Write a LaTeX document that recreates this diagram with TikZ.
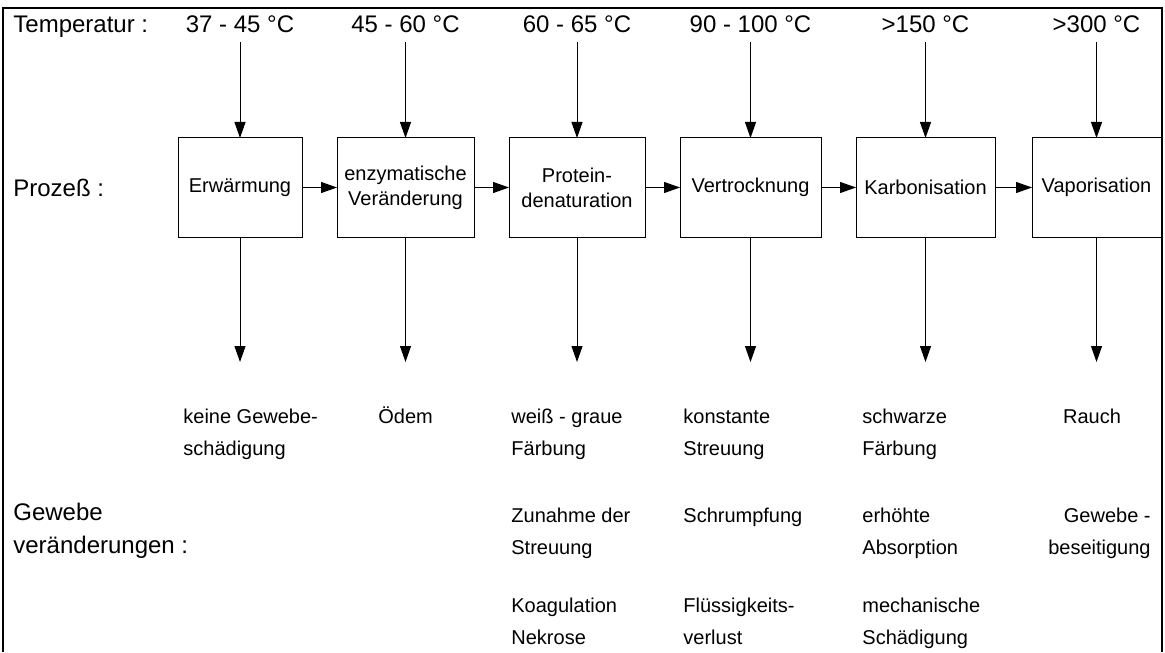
\documentclass[tikz,border=0pt]{standalone}
\usepackage{fontspec}
\setmainfont{Liberation Sans}
\usetikzlibrary{positioning,arrows.meta}

\begin{document}
\begin{tikzpicture}[x=0.5pt, y=-0.5pt,
  node distance=17.5pt,
  box/.style={draw, line width=0.5pt, align=center, minimum height=49.5pt,
              inner sep=2pt, outer sep=0pt, font=\fontsize{10}{12.5}\selectfont},
  tmp/.style={inner xsep=0pt, inner ysep=4.5pt, font=\fontsize{12}{14}\selectfont},
  lbl/.style={anchor=base west, align=left, inner sep=0pt,
              font=\fontsize{10}{16}\selectfont},
  row/.style={lbl, font=\fontsize{12}{16.5}\selectfont},
  arr/.style={-{Triangle[length=8pt,width=5.5pt]}, line width=0.5pt}]
\useasboundingbox (0,0) rectangle (1165,652);
\draw[line width=1pt] (3,652) -- (3,8) -- (1162,8) -- (1162,652);
% process chain
\node[box, minimum width=62pt] (erw) at (240,187.5) {Erw\"armung};
\node[box, minimum width=68.5pt, right=of erw] (enz) {enzymatische\\Ver\"anderung};
\node[box, minimum width=68pt, right=of enz] (prot) {Protein-\\denaturation};
\node[box, minimum width=70.5pt, right=of prot] (trock) {Vertrocknung};
\node[box, minimum width=69.5pt, right=of trock] (karb) {Karbonisation};
\node[box, minimum width=64.5pt, right=18.5pt of karb] (vap) {Vaporisation};
\draw[arr] (erw)--(enz); \draw[arr] (enz)--(prot); \draw[arr] (prot)--(trock);
\draw[arr] (trock)--(karb); \draw[arr] (karb)--(vap);
% temperatures
\node[tmp, above=48pt of erw] (terw) {37 - 45 \textdegree C};
\node[tmp, above=48pt of enz] (tenz) {45 - 60 \textdegree C};
\node[tmp, above=48pt of prot] (tprot) {60 - 65 \textdegree C};
\node[tmp, above=48pt of trock] (ttrock) {90 - 100 \textdegree C};
\node[tmp, above=48pt of karb] (tkarb) {>150 \textdegree C};
\node[tmp, above=48pt of vap] (tvap) {>300 \textdegree C};
\draw[arr] (terw)--(erw); \draw[arr] (tenz)--(enz); \draw[arr] (tprot)--(prot);
\draw[arr] (ttrock)--(trock); \draw[arr] (tkarb)--(karb); \draw[arr] (tvap)--(vap);
% outputs
\coordinate[below=62.5pt of erw] (derw);
\coordinate[below=62.5pt of enz] (denz);
\coordinate[below=62.5pt of prot] (dprot);
\coordinate[below=62.5pt of trock] (dtrock);
\coordinate[below=62.5pt of karb] (dkarb);
\coordinate[below=62.5pt of vap] (dvap);
\draw[arr] (erw)--(derw); \draw[arr] (enz)--(denz); \draw[arr] (prot)--(dprot);
\draw[arr] (trock)--(dtrock); \draw[arr] (karb)--(dkarb); \draw[arr] (vap)--(dvap);
% row labels
\node[row] (temp) at (13,33) {Temperatur :};
\node[row] (proz) at (13,197) {Proze\ss{} :};
\node[row] (gew) at (13,553) {Gewebe\\ver\"anderungen :};
% tissue changes
\node[lbl] (keine) at (183,455) {keine Gewebe-\\sch\"adigung};
\node[lbl] (oedem) at (378,423) {\"Odem};
\node[lbl] (weiss) at (511,455) {wei\ss{} - graue\\F\"arbung};
\node[lbl] (zunahme) at (511,554) {Zunahme der\\Streuung};
\node[lbl] (koag) at (511,644) {Koagulation\\Nekrose};
\node[lbl] (konst) at (683,455) {konstante\\Streuung};
\node[lbl] (schrumpf) at (683,522) {Schrumpfung};
\node[lbl] (fluess) at (683,644) {Fl\"ussigkeits-\\verlust};
\node[lbl] (schwarz) at (862,455) {schwarze\\F\"arbung};
\node[lbl] (erhoeht) at (862,554) {erh\"ohte\\Absorption};
\node[lbl] (mech) at (862,644) {mechanische\\Sch\"adigung};
\node[lbl, anchor=base] (rauch) at (1092,423) {Rauch};
\node[lbl, anchor=base east, align=right] (beseit) at (1151,554) {Gewebe -\\beseitigung};
\end{tikzpicture}
\end{document}
